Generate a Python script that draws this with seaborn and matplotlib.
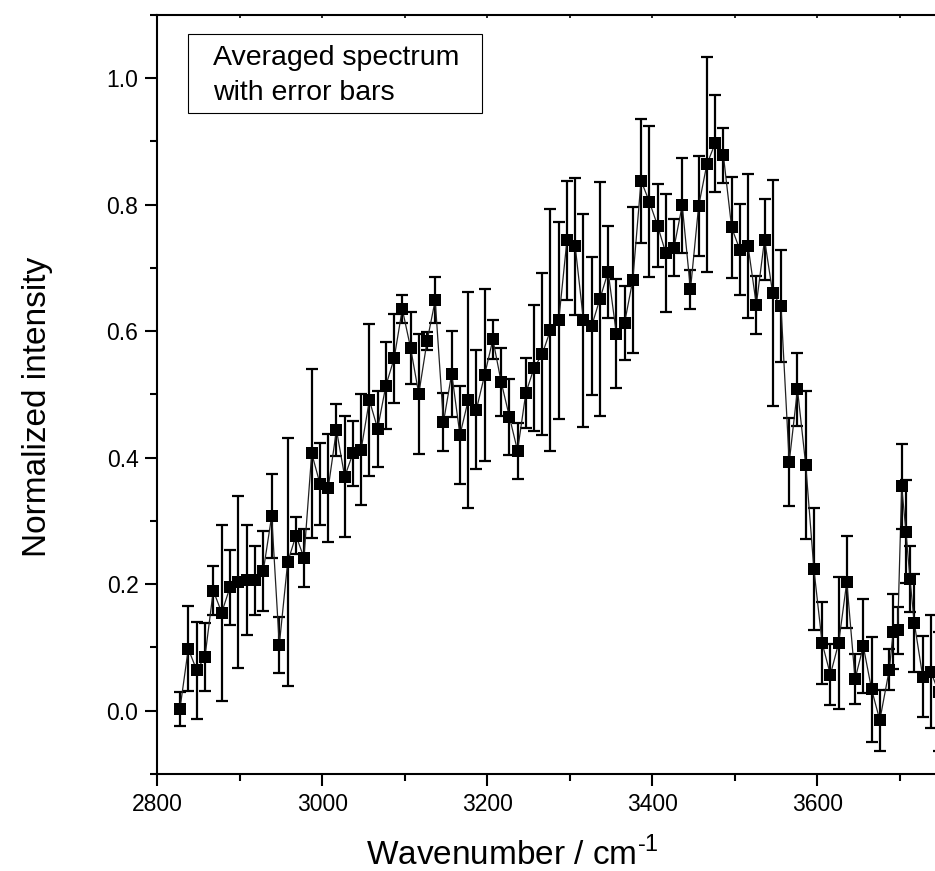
import matplotlib
matplotlib.use("Agg")
import matplotlib.pyplot as plt
from matplotlib.patches import Rectangle
from matplotlib.ticker import MultipleLocator, AutoMinorLocator, FormatStrFormatter
import seaborn as sns
import pandas as pd

# -------------------------------
# Data
# -------------------------------
wavenumber = [
    2827.5, 2837.6, 2847.8, 2857.8, 2867.9, 2878.1, 2888.1, 2898.2, 2908.4, 2918.4,
    2928.5, 2938.7, 2947.9, 2958.1, 2968.1, 2977.8, 2987.2, 2997.2, 3007.2, 3017.2,
    3027.2, 3037.2, 3047.1, 3057.1, 3067.1, 3077.1, 3087.1, 3097.0, 3107.0, 3117.0,
    3127.0, 3136.9, 3146.9, 3156.9, 3166.9, 3176.9, 3186.8, 3196.8, 3206.8, 3216.8,
    3226.8, 3236.7, 3246.7, 3256.7, 3266.7, 3276.6, 3286.6, 3296.6, 3306.6, 3316.6,
    3326.5, 3336.5, 3346.5, 3356.5, 3366.4, 3376.4, 3386.4, 3396.4, 3406.4, 3416.3,
    3426.3, 3436.3, 3446.3, 3456.2, 3466.2, 3476.2, 3486.2, 3496.2, 3506.1, 3516.1,
    3526.1, 3536.1, 3546.0, 3556.0, 3566.0, 3576.0, 3586.0, 3595.9, 3605.9, 3615.9,
    3625.9, 3635.8, 3645.8, 3655.8, 3665.8, 3675.8, 3687.3, 3692.1, 3697.5, 3702.3,
    3707.5, 3712.4, 3717.6, 3727.8, 3737.5, 3747.0,
]

intensity = [
    0.003, 0.098, 0.064, 0.085, 0.190, 0.155, 0.195, 0.204, 0.206, 0.206,
    0.221, 0.308, 0.104, 0.235, 0.277, 0.242, 0.407, 0.359, 0.352, 0.444,
    0.370, 0.407, 0.413, 0.491, 0.446, 0.514, 0.557, 0.635, 0.574, 0.501,
    0.584, 0.649, 0.456, 0.533, 0.436, 0.491, 0.476, 0.531, 0.587, 0.520,
    0.465, 0.411, 0.502, 0.542, 0.564, 0.602, 0.617, 0.744, 0.734, 0.617,
    0.608, 0.651, 0.694, 0.596, 0.613, 0.681, 0.838, 0.805, 0.767, 0.724,
    0.732, 0.799, 0.666, 0.798, 0.864, 0.897, 0.878, 0.764, 0.729, 0.735,
    0.642, 0.745, 0.660, 0.640, 0.393, 0.508, 0.389, 0.224, 0.107, 0.057,
    0.107, 0.204, 0.050, 0.102, 0.034, -0.015, 0.065, 0.125, 0.127, 0.355,
    0.283, 0.208, 0.139, 0.054, 0.062, 0.030,
]

error = [
    0.027, 0.067, 0.077, 0.054, 0.039, 0.139, 0.059, 0.136, 0.087, 0.055,
    0.063, 0.067, 0.044, 0.196, 0.030, 0.046, 0.134, 0.065, 0.085, 0.041,
    0.096, 0.051, 0.087, 0.120, 0.060, 0.069, 0.070, 0.022, 0.057, 0.095,
    0.014, 0.036, 0.046, 0.068, 0.077, 0.171, 0.094, 0.136, 0.031, 0.054,
    0.060, 0.044, 0.055, 0.099, 0.128, 0.192, 0.155, 0.094, 0.108, 0.169,
    0.109, 0.185, 0.073, 0.086, 0.059, 0.115, 0.098, 0.120, 0.066, 0.093,
    0.045, 0.075, 0.031, 0.079, 0.170, 0.077, 0.043, 0.080, 0.072, 0.114,
    0.046, 0.064, 0.179, 0.088, 0.070, 0.058, 0.117, 0.096, 0.065, 0.048,
    0.105, 0.073, 0.040, 0.074, 0.083, 0.048, 0.033, 0.059, 0.037, 0.067,
    0.081, 0.052, 0.077, 0.064, 0.090, 0.094,
]

df = pd.DataFrame({"wavenumber": wavenumber, "intensity": intensity, "error": error})

sns.set_style("ticks")
plt.rcParams["font.family"] = ["Liberation Sans", "DejaVu Sans"]
plt.rcParams["mathtext.fontset"] = "custom"
plt.rcParams["mathtext.rm"] = "Liberation Sans"
for key in ["text.color", "axes.labelcolor", "xtick.color", "ytick.color", "axes.edgecolor"]:
    plt.rcParams[key] = "black"

fig = plt.figure(figsize=(9.35, 8.71), dpi=100)
ax = fig.add_axes([0.1682, 0.1114, 0.8318, 0.8714])

# error bars first, then the line with square symbols
ax.errorbar(df["wavenumber"], df["intensity"], yerr=df["error"], fmt="none",
            ecolor="black", elinewidth=1.6, capsize=4.6, capthick=1.6, zorder=2)
sns.lineplot(data=df, x="wavenumber", y="intensity", sort=False, errorbar=None,
             color="#222222", linewidth=0.9, marker="s", markersize=8.0,
             markerfacecolor="black", markeredgewidth=0, ax=ax, zorder=3)

ax.set_xlim(2800, 3742.7)
ax.set_ylim(-0.1, 1.1)

ax.xaxis.set_major_locator(MultipleLocator(200))
ax.xaxis.set_minor_locator(AutoMinorLocator(2))
ax.yaxis.set_major_locator(MultipleLocator(0.2))
ax.yaxis.set_minor_locator(AutoMinorLocator(2))
ax.yaxis.set_major_formatter(FormatStrFormatter("%.1f"))

ax.tick_params(which="major", direction="out", length=8.6, width=1.5,
               labelsize=16.5, pad=5, colors="black")
ax.tick_params(which="minor", direction="out", length=4.8, width=1.5, colors="black")

for side in ["left", "bottom"]:
    ax.spines[side].set_linewidth(1.5)
    ax.spines[side].set_color("black")
ax.spines["right"].set_visible(False)
ax.spines["top"].set_visible(False)

top = ax.secondary_xaxis("top")
top.xaxis.set_major_locator(MultipleLocator(100))
top.tick_params(direction="in", length=2.5, width=1.2, labeltop=False, colors="black")
top.spines["top"].set_linewidth(1.5)
top.spines["top"].set_color("black")

ax.set_xlabel("Wavenumber / cm$^{\\mathregular{\u2010 1}}$", fontsize=24, color="black")
ax.set_ylabel("Normalized intensity", fontsize=24, color="black")
ax.xaxis.set_label_coords(0.456, -0.083)
ax.yaxis.set_label_coords(-0.134, 0.4835)

# boxed annotation in the upper left
ax.add_patch(Rectangle((0.0399, 0.8713), 0.378, 0.1033, transform=ax.transAxes,
                       facecolor="white", edgecolor="black", linewidth=0.8, zorder=5))
ax.text(0.072, 0.9341, "Averaged spectrum", transform=ax.transAxes,
        fontsize=20.5, va="baseline", ha="left", color="black", zorder=6)
ax.text(0.072, 0.888, "with error bars", transform=ax.transAxes,
        fontsize=20.5, va="baseline", ha="left", color="black", zorder=6)

plt.savefig("out.png", dpi=100)
